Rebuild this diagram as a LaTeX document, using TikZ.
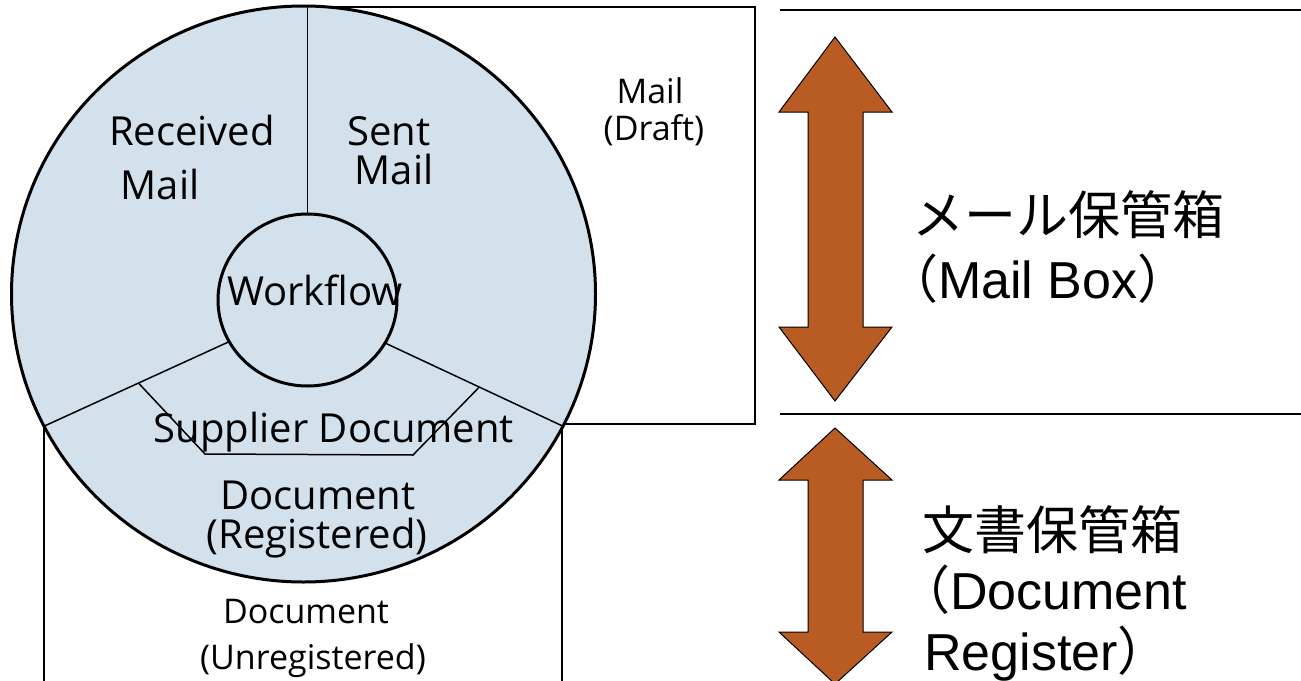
\documentclass[tikz,border=0pt]{standalone}
\usepackage{fontspec}
\setmainfont{Open Sans}
\newfontfamily\arialf{Liberation Sans}
\newfontfamily\cjk{Noto Sans CJK JP}
\usetikzlibrary{shapes.geometric,calc}
\definecolor{ringfill}{RGB}{211,225,236}
\definecolor{arrowc}{RGB}{184,92,36}
\begin{document}
\begin{tikzpicture}[x=1pt,y=-1pt,
  thinline/.style={line width=1.5pt},
  ring/.style={ellipse, draw, line width=3pt, fill=ringfill, inner sep=0pt, outer sep=0pt},
  lbl/.style={anchor=base, inner sep=0pt, font=\fontsize{40pt}{48pt}\selectfont},
  slbl/.style={anchor=base, inner sep=0pt, font=\fontsize{34pt}{40pt}\selectfont},
  jp/.style={anchor=base west, inner sep=0pt, font=\fontsize{52pt}{60pt}\selectfont\arialf},
  bigarrow/.style={fill=arrowc, draw=black, line width=1pt, line join=miter}]
\useasboundingbox (0,0) rectangle (1301,680);
\clip (0,0) rectangle (1301,680);
\fill[white] (0,0) rectangle (1301,680);
% boxes behind the ring
\draw[thinline] (308,7) rectangle (755,424);
\draw[thinline] (44,420) rectangle (562,700);
% ring
\node[ring, minimum width=584pt, minimum height=576pt] (outer) at (303.5,294) {};
\node[ring, minimum width=179pt, minimum height=172pt] (wf) at (307.5,300) {};
% dividers
\draw[thinline] (wf.north) -- (wf.north |- outer.north);
\draw[thinline] (wf.208) -- (outer.207);
\draw[thinline] (wf.331) -- (outer.333);
% supplier document area
\coordinate (h1) at ($(wf.208)!0.49!(outer.207)$);
\coordinate (h4) at ($(wf.331)!0.53!(outer.333)$);
\coordinate (h2) at (205,454);
\coordinate (h3) at (413,455);
\draw[thinline] (h1) -- (h2) -- (h3) -- (h4);
% labels in the ring
\node[lbl] (rcv1) at (192,145) {Received};
\node[lbl] (rcv2) at (160,199) {Mail};
\node[lbl] (snt1) at (389,145) {Sent};
\node[lbl] (snt2) at (394,184) {Mail};
\node[lbl] (wft) at (315,305) {Workflow};
\node[lbl] (sup) at (334,442) {Supplier Document};
\node[lbl] (reg1) at (318,509) {Document};
\node[lbl] (reg2) at (317,548) {(Registered)};
\node[slbl] (unr1) at (306,623) {Document};
\node[slbl] (unr2) at (313,669) {(Unregistered)};
\node[slbl] (drf1) at (650,103) {Mail};
\node[slbl] (drf2) at (654,140) {(Draft)};
% right side separators
\coordinate (l1a) at (780,10);
\coordinate (l1b) at (1301,10);
\coordinate (l2a) at (780,414);
\coordinate (l2b) at (1301,414);
\draw[thinline] (l1a) -- (l1b);
\draw[thinline] (l2a) -- (l2b);
% double arrows
\draw[bigarrow] (835,37) -- (892,112) -- (863,112) -- (863,327) -- (892,327) -- (835,401)
  -- (779,327) -- (808,327) -- (808,112) -- (779,112) -- cycle;
\draw[bigarrow] (835,428) -- (892,480) -- (863,480) -- (863,632) -- (892,632) -- (835,684)
  -- (779,632) -- (808,632) -- (808,480) -- (779,480) -- cycle;
% right labels
\node[jp] (mb1) at (912,234) {\cjk メール保管箱};
\node[jp] (mb2) at (886,298) {{\cjk （}Mail Box{\cjk ）}};
\node[jp] (dr1) at (922,549) {\cjk 文書保管箱};
\node[jp] (dr2) at (898,609) {{\cjk （}Document};
\node[jp] (dr3) at (924,670) {Register{\cjk ）}};
\end{tikzpicture}
\end{document}
